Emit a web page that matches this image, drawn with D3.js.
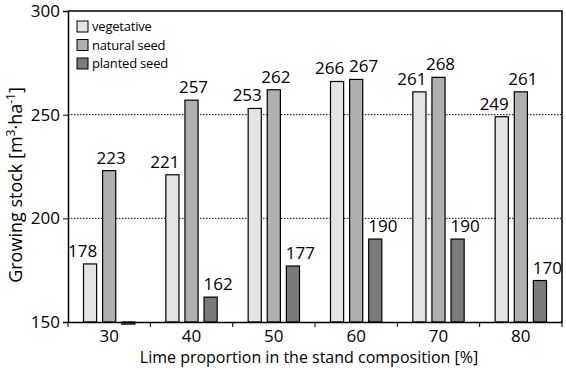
<!DOCTYPE html>
<html>
<head>
<meta charset="utf-8">
<script src="https://d3js.org/d3.v7.min.js"></script>
<style>
body { margin: 0; background: #fff; }
svg text { font-family: "Open Sans", sans-serif; fill: #000; }
</style>
</head>
<body>
<svg width="566" height="370"></svg>
<script>
var categories = ["30", "40", "50", "60", "70", "80"];
var series = ["vegetative", "natural seed", "planted seed"];
var vegetative = [178, 221, 253, 266, 261, 249];
var naturalSeed = [223, 257, 262, 267, 268, 261];
var plantedSeed = [149, 162, 177, 190, 190, 170];
var yTicks = [150, 200, 250, 300];
var gridValues = [200, 250];
var colors = ["#e4e4e4", "#b0b0b0", "#7b7b7b"];

var svg = d3.select("svg"),
    margin = {top: 11, right: 4, bottom: 48, left: 68},
    width = +svg.attr("width") - margin.left - margin.right,
    height = +svg.attr("height") - margin.top - margin.bottom;

var g = svg.append("g").attr("transform", "translate(" + margin.left + "," + margin.top + ")");

var x0 = d3.scaleBand().domain(categories).range([0, width]).padding(0);
var x1 = d3.scaleBand().domain(series)
    .range([15, x0.bandwidth() - 15])
    .paddingInner(0.26);
var y = d3.scaleLinear().domain([150, 300]).range([height, 0]);
var color = d3.scaleOrdinal().domain(series).range(colors);

var rows = categories.map(function(c, i) {
  return {cat: c, values: [
    {key: series[0], value: vegetative[i], other: naturalSeed[i]},
    {key: series[1], value: naturalSeed[i], other: vegetative[i]},
    {key: series[2], value: plantedSeed[i]}
  ]};
});

// dotted grid lines
g.selectAll(".grid")
  .data(gridValues)
  .enter().append("line")
    .attr("x1", 0).attr("x2", width)
    .attr("y1", function(d) { return y(d); })
    .attr("y2", function(d) { return y(d); })
    .attr("stroke", "#000")
    .attr("stroke-width", 1)
    .attr("stroke-dasharray", "1.5,1.5");

// bars
var groups = g.selectAll(".grp")
  .data(rows)
  .enter().append("g")
    .attr("transform", function(d) { return "translate(" + x0(d.cat) + ",0)"; });

groups.selectAll("rect")
  .data(function(d) { return d.values; })
  .enter().append("rect")
    .attr("x", function(d) { return x1(d.key) + 0.5; })
    .attr("width", x1.bandwidth() - 1)
    .attr("y", function(d) { return Math.min(y(d.value), y(150)); })
    .attr("height", function(d) { return Math.max(Math.abs(y(150) - y(d.value)), 1); })
    .attr("fill", function(d) { return color(d.key); })
    .attr("stroke", "#000")
    .attr("stroke-width", 1.2);

// value labels: vegetative right-aligned, natural centred (pushed right when crowded), planted left-aligned
function labelX(d) {
  var l = x1(d.key), w = x1.bandwidth();
  if (d.key == series[0]) return l + w;
  if (d.key == series[1]) return Math.abs(d.value - d.other) < 5 ? l : l + w / 2 + 2;
  return l;
}
function labelAnchor(d) {
  if (d.key == series[0]) return "end";
  if (d.key == series[1]) return Math.abs(d.value - d.other) < 5 ? "start" : "middle";
  return "start";
}
groups.selectAll(".lbl")
  .data(function(d) { return d.values.filter(function(v) { return v.value >= 150; }); })
  .enter().append("text")
    .attr("x", labelX)
    .attr("y", function(d) { return y(d.value) - 7; })
    .attr("text-anchor", labelAnchor)
    .attr("font-size", 17)
    .text(function(d) { return d.value; });

// frame
g.append("path")
  .attr("d", "M0,0H" + width + "V" + height)
  .attr("fill", "none")
  .attr("stroke", "#000")
  .attr("stroke-width", 1.5);

// y axis
var yAxis = g.append("g").call(d3.axisLeft(y).tickValues(yTicks).tickSize(5).tickPadding(3));
yAxis.select(".domain").attr("stroke-width", 1.5);
yAxis.selectAll("text").attr("font-size", 17).attr("font-family", "Open Sans");

// x axis
var xAxis = g.append("g").attr("transform", "translate(0," + height + ")")
  .call(d3.axisBottom(x0).tickSize(0).tickPadding(8));
xAxis.select(".domain").attr("stroke-width", 1.5);
xAxis.selectAll("text").attr("font-size", 17).attr("font-family", "Open Sans");
xAxis.selectAll(".bound")
  .data(categories.concat(["end"]))
  .enter().append("line")
    .attr("x1", function(d, i) { return i * x0.step(); })
    .attr("x2", function(d, i) { return i * x0.step(); })
    .attr("y1", 0).attr("y2", 5)
    .attr("stroke", "#000");

// legend
var legend = g.selectAll(".legend")
  .data(series)
  .enter().append("g")
    .attr("transform", function(d, i) { return "translate(9," + (10 + i * 18.5) + ")"; });
legend.append("rect")
  .attr("width", 11).attr("height", 11)
  .attr("fill", function(d) { return color(d); })
  .attr("stroke", "#000");
legend.append("text")
  .attr("x", 15).attr("y", 5.5)
  .attr("dy", "0.35em")
  .attr("font-size", 13)
  .attr("letter-spacing", -0.2)
  .text(function(d) { return d; });

// axis titles
svg.append("text")
  .attr("x", margin.left + width / 2 - 6)
  .attr("y", 363)
  .attr("text-anchor", "middle")
  .attr("font-size", 16)
  .text("Lime proportion in the stand composition [%]");

var yt = svg.append("text")
  .attr("transform", "translate(22,185) rotate(-90)")
  .attr("text-anchor", "middle")
  .attr("font-size", 18);
yt.append("tspan").text("Growing stock [m");
yt.append("tspan").attr("dy", -7).attr("font-size", 12).text("3");
yt.append("tspan").attr("dy", 7).text("·ha");
yt.append("tspan").attr("dy", -7).attr("font-size", 12).text("-1");
yt.append("tspan").attr("dy", 7).text("]");
</script>
</body>
</html>
